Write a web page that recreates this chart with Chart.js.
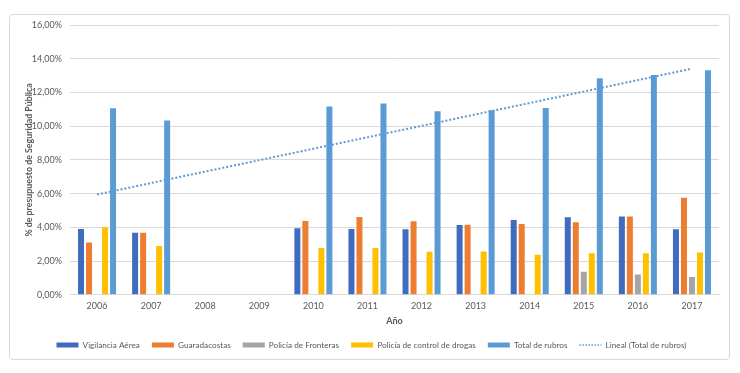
<!DOCTYPE html>
<html>
<head>
<meta charset="utf-8">
<script src="https://cdn.jsdelivr.net/npm/chart.js@4"></script>
<style>
  html, body { margin: 0; padding: 0; background: #fff; }
  #wrap { position: relative; width: 740px; height: 373px; }
  #frame { position: absolute; left: 9px; top: 14px; width: 719px; height: 344px;
           border: 1px solid #d9d9d9; border-radius: 4px; }
  canvas { position: absolute; left: 0; top: 0; }
</style>
</head>
<body>
<div id="wrap">
  <div id="frame"></div>
  <canvas id="chart" width="740" height="373"></canvas>
</div>
<script>
const years = ["2006", "2007", "2008", "2009", "2010", "2011", "2012", "2013", "2014", "2015", "2016", "2017"];

// % del presupuesto de Seguridad Pública (2008 y 2009 sin datos)
const vigilanciaAerea = [3.90, 3.68, null, null, 3.94, 3.90, 3.88, 4.14, 4.44, 4.60, 4.64, 3.88];
const guardacostas    = [3.10, 3.68, null, null, 4.38, 4.62, 4.36, 4.16, 4.20, 4.30, 4.64, 5.75];
const policiaFronteras = [null, null, null, null, null, null, null, null, null, 1.37, 1.21, 1.06];
const policiaDrogas   = [4.00, 2.90, null, null, 2.77, 2.77, 2.55, 2.57, 2.37, 2.47, 2.47, 2.51];
const totalRubros     = [11.06, 10.33, null, null, 11.16, 11.34, 10.88, 10.94, 11.08, 12.84, 13.03, 13.31];
// tendencia lineal: solo los extremos
const tendencia       = [5.95, null, null, null, null, null, null, null, null, null, null, 13.41];

const yTicks = { min: 0, max: 16, step: 2 };

const FONT = "Lato, 'Open Sans', sans-serif";
const TEXT = "#595959";

function fmtPct(v) {
  return v.toFixed(2).replace(".", ",") + "%";
}

function bar(label, data, color) {
  return {
    label: label,
    data: data,
    backgroundColor: color,
    borderWidth: 0,
    categoryPercentage: 0.74,
    barPercentage: 0.75,
    order: 1
  };
}

const ctx = document.getElementById("chart").getContext("2d");
new Chart(ctx, {
  type: "bar",
  data: {
    labels: years,
    datasets: [
      bar("Vigilancia Aérea", vigilanciaAerea, "#3F6CBE"),
      bar("Guaradacostas", guardacostas, "#ED7D31"),
      bar("Policía de Fronteras", policiaFronteras, "#A5A5A5"),
      bar("Policía de control de drogas", policiaDrogas, "#FFC000"),
      bar("Total de rubros", totalRubros, "#5B9BD5"),
      {
        type: "line",
        label: "Lineal (Total de rubros)",
        data: tendencia,
        borderColor: "#5B9BD5",
        borderWidth: 2,
        borderDash: [2, 2],
        pointRadius: 0,
        spanGaps: true,
        fill: false,
        order: 0
      }
    ]
  },
  options: {
    responsive: false,
    animation: false,
    layout: { padding: { left: 24, right: 21, top: 25, bottom: 14 } },
    plugins: {
      tooltip: { enabled: false },
      legend: {
        position: "bottom",
        labels: {
          font: { family: FONT, size: 8.2 },
          color: TEXT,
          usePointStyle: true,
          pointStyleWidth: 22,
          boxHeight: 5,
          padding: 12,
          sort: (a, b) => a.datasetIndex - b.datasetIndex,
          generateLabels(chart) {
            const items = Chart.defaults.plugins.legend.labels.generateLabels(chart);
            items.forEach(it => {
              const ds = chart.data.datasets[it.datasetIndex];
              if (ds.type === "line") {
                it.pointStyle = "line";
                it.strokeStyle = ds.borderColor;
                it.lineWidth = 1.5;
                it.lineDash = [1.5, 1.5];
              } else {
                it.pointStyle = "rect";
                it.lineWidth = 0;
              }
            });
            return items;
          }
        }
      }
    },
    scales: {
      x: {
        grid: { display: false, drawTicks: false },
        border: { display: true, color: "#d9d9d9" },
        ticks: { font: { family: FONT, size: 9 }, color: TEXT, padding: 6 },
        title: {
          display: true,
          text: "Año",
          font: { family: FONT, size: 9, weight: "bold" },
          color: TEXT,
          padding: { top: 0, bottom: 2 }
        },
        afterFit(scale) { scale.height = 34; }
      },
      y: {
        min: yTicks.min,
        max: yTicks.max,
        grid: { color: "#d9d9d9", drawTicks: false },
        border: { display: false },
        ticks: {
          stepSize: yTicks.step,
          font: { family: FONT, size: 9 },
          color: TEXT,
          padding: 8,
          callback: v => fmtPct(v)
        },
        title: {
          display: true,
          text: "% de presupuesto de Seguridad Pública",
          font: { family: FONT, size: 8.8, weight: "bold" },
          color: TEXT,
          padding: { top: 0, bottom: 0 }
        },
        afterFit(scale) { scale.width = 46; }
      }
    }
  }
});
</script>
</body>
</html>
